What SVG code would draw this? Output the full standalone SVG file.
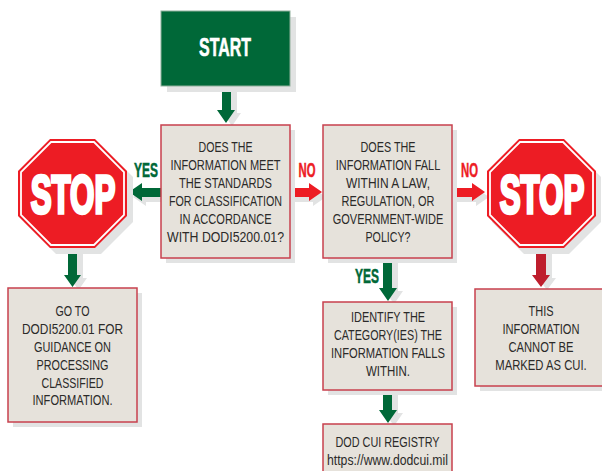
<svg xmlns="http://www.w3.org/2000/svg" width="602" height="471" viewBox="0 0 602 471">
<style>
.box{fill:#e6e2db;stroke:#c8404e;stroke-width:1.5}
.sh{fill:#e2e3e3}
.t{font-family:"Liberation Sans",sans-serif;font-size:14.5px;fill:#2b2a29;text-anchor:middle}
.lab{font-family:"Liberation Sans",sans-serif;font-weight:bold;font-size:21px;text-anchor:middle;stroke-width:.5}
.stop{font-family:"Liberation Sans",sans-serif;font-weight:bold;font-size:53px;fill:#fff;text-anchor:middle;stroke:#fff;stroke-width:3.5}
.g{fill:#006838}.r{fill:#ed1c24}.d{fill:#be1e2d}
</style>
<rect width="602" height="471" fill="#fff"/>
<g id="connectors">
<path class="sh" d="M222 86h9v24h4l-9 13-9-13h5z" transform="translate(6 3)"/>
<path class="g" d="M222 86h9v24h4l-9 13-9-13h5z"/>
<path class="sh" d="M161 188v9h-19v4l-13-9 13-9v5z" transform="translate(4 5)"/>
<path class="g" d="M161 188v9h-19v4l-13-9 13-9v5z"/>
<path class="sh" d="M290 188v9h19v4l13-9-13-9v5z" transform="translate(4 5)"/>
<path class="r" d="M290 188v9h19v4l13-9-13-9v5z"/>
<path class="sh" d="M452 188v9h20v4l13-9-13-9v5z" transform="translate(4 5)"/>
<path class="r" d="M452 188v9h20v4l13-9-13-9v5z"/>
<path class="sh" d="M383 258h9v30h5l-9 13-9-13h4z" transform="translate(6 3)"/>
<path class="g" d="M383 258h9v30h5l-9 13-9-13h4z"/>
<path class="sh" d="M383 390h9v20h5l-9 13-9-13h4z" transform="translate(6 3)"/>
<path class="g" d="M383 390h9v20h5l-9 13-9-13h4z"/>
<path class="sh" d="M68 248h9v27h4l-8.500 12-8.500-12h4z" transform="translate(6 3)"/>
<path class="g" d="M68 248h9v27h4l-8.500 12-8.500-12h4z"/>
<path class="sh" d="M536 248h10v27h4l-9 12-9-12h4z" transform="translate(6 3)"/>
<path class="d" d="M536 248h10v27h4l-9 12-9-12h4z"/>
</g>
<g id="start">
<rect class="sh" x="167" y="17" width="129" height="75"/>
<rect x="161" y="11" width="129" height="75" fill="#006838" stroke="#8fb09b"/>
<text x="225" y="56" font-family="Liberation Sans,sans-serif" font-weight="bold" font-size="25" fill="#fff" stroke="#fff" stroke-width=".6" text-anchor="middle" textLength="52" lengthAdjust="spacingAndGlyphs">START</text>
</g>
<g id="q1">
<rect class="sh" x="166" y="130" width="129" height="133"/>
<rect class="box" x="161" y="125" width="129" height="133"/>
<text class="t" x="225.500" y="152" textLength="54" lengthAdjust="spacingAndGlyphs">DOES THE</text>
<text class="t" transform="translate(225.500 170) scale(.761 1)">INFORMATION MEET</text>
<text class="t" x="225.500" y="188" textLength="93" lengthAdjust="spacingAndGlyphs">THE STANDARDS</text>
<text class="t" transform="translate(225.500 206) scale(.74 1)">FOR CLASSIFICATION</text>
<text class="t" x="225.500" y="224" textLength="92" lengthAdjust="spacingAndGlyphs">IN ACCORDANCE</text>
<text class="t" transform="translate(225.500 242) scale(.85 1)">WITH DODI5200.01?</text>
</g>
<g id="q2">
<rect class="sh" x="328" y="130" width="129" height="133"/>
<rect class="box" x="323" y="125" width="129" height="133"/>
<text class="t" x="388" y="152" textLength="55" lengthAdjust="spacingAndGlyphs">DOES THE</text>
<text class="t" transform="translate(388 170) scale(.757 1)">INFORMATION FALL</text>
<text class="t" x="388" y="188" textLength="84" lengthAdjust="spacingAndGlyphs">WITHIN A LAW,</text>
<text class="t" x="388" y="206" textLength="93" lengthAdjust="spacingAndGlyphs">REGULATION, OR</text>
<text class="t" transform="translate(388 224) scale(.76 1)">GOVERNMENT-WIDE</text>
<text class="t" x="388" y="242" textLength="45" lengthAdjust="spacingAndGlyphs">POLICY?</text>
</g>
<g id="stop-left">
<path class="sh" d="M50 139H95L127 171V216L95 248H50L18 216V171Z" transform="translate(6 6)"/>
<path d="M50 139H95L127 171V216L95 248H50L18 216V171Z" fill="#ed1c24"/>
<path d="M51 142H94L124 172V215L94 245H51L21 215V172Z" fill="#ed1c24" stroke="#fff" stroke-width="1.8"/>
<text class="stop" transform="translate(73 212.500) scale(.59 1)">STOP</text>
</g>
<g id="stop-right">
<path class="sh" d="M519 139H564L596 171V216L564 248H519L487 216V171Z" transform="translate(5 6)"/>
<path d="M519 139H564L596 171V216L564 248H519L487 216V171Z" fill="#ed1c24"/>
<path d="M520 142H563L593 172V215L563 245H520L490 215V172Z" fill="#ed1c24" stroke="#fff" stroke-width="1.8"/>
<text class="stop" transform="translate(542 212.500) scale(.59 1)">STOP</text>
</g>
<g id="goto">
<rect class="sh" x="13" y="293" width="129" height="134"/>
<rect class="box" x="8" y="288" width="129" height="134"/>
<text class="t" x="72.500" y="316" textLength="34" lengthAdjust="spacingAndGlyphs">GO TO</text>
<text class="t" x="72.500" y="334" textLength="101" lengthAdjust="spacingAndGlyphs">DODI5200.01 FOR</text>
<text class="t" x="72.500" y="352" textLength="77" lengthAdjust="spacingAndGlyphs">GUIDANCE ON</text>
<text class="t" x="72.500" y="370" textLength="72" lengthAdjust="spacingAndGlyphs">PROCESSING</text>
<text class="t" x="72.500" y="388" textLength="62" lengthAdjust="spacingAndGlyphs">CLASSIFIED</text>
<text class="t" x="72.500" y="405" textLength="80" lengthAdjust="spacingAndGlyphs">INFORMATION.</text>
</g>
<g id="identify">
<rect class="sh" x="328" y="307" width="129" height="88"/>
<rect class="box" x="323" y="302" width="129" height="88"/>
<text class="t" x="388" y="322" textLength="74" lengthAdjust="spacingAndGlyphs">IDENTIFY THE</text>
<text class="t" x="388" y="340" textLength="108" lengthAdjust="spacingAndGlyphs">CATEGORY(IES) THE</text>
<text class="t" x="388" y="358" textLength="114" lengthAdjust="spacingAndGlyphs">INFORMATION FALLS</text>
<text class="t" x="388" y="376" textLength="44" lengthAdjust="spacingAndGlyphs">WITHIN.</text>
</g>
<g id="registry">
<rect class="box" x="323" y="424" width="129" height="60"/>
<text class="t" x="387.500" y="447" textLength="104" lengthAdjust="spacingAndGlyphs">DOD CUI REGISTRY</text>
<text class="t" x="387.500" y="465" textLength="121" lengthAdjust="spacingAndGlyphs">https://www.dodcui.mil</text>
</g>
<g id="not-cui">
<rect class="sh" x="480" y="294" width="130" height="97"/>
<rect class="box" x="475" y="289" width="130" height="97"/>
<text class="t" x="541" y="316" textLength="25" lengthAdjust="spacingAndGlyphs">THIS</text>
<text class="t" x="541" y="334" textLength="77" lengthAdjust="spacingAndGlyphs">INFORMATION</text>
<text class="t" x="541" y="352" textLength="65" lengthAdjust="spacingAndGlyphs">CANNOT BE</text>
<text class="t" transform="translate(541 370) scale(.777 1)">MARKED AS CUI.</text>
</g>
<g id="labels">
<text class="lab" fill="#006838" stroke="#006838" transform="translate(146 177) scale(.57 1)">YES</text>
<text class="lab" fill="#ed1c24" stroke="#ed1c24" transform="translate(307 177) scale(.54 1)">NO</text>
<text class="lab" fill="#ed1c24" stroke="#ed1c24" transform="translate(469.500 177) scale(.54 1)">NO</text>
<text class="lab" fill="#006838" stroke="#006838" transform="translate(367 283) scale(.57 1)">YES</text>
</g>
</svg>
